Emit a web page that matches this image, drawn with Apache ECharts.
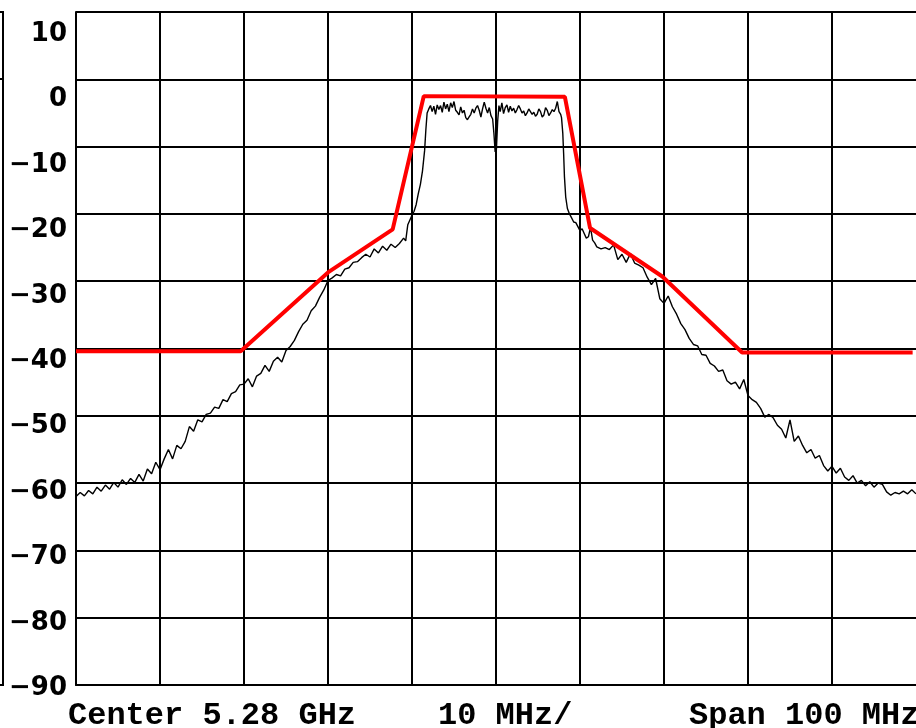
<!DOCTYPE html>
<html>
<head>
<meta charset="utf-8">
<script src="https://cdn.jsdelivr.net/npm/echarts@6/dist/echarts.min.js"></script>
<style>
html,body{margin:0;padding:0;background:#fff;}
#chart{width:916px;height:728px;}
</style>
</head>
<body>
<div id="chart"></div>
<script>
// Frequency offset from centre (MHz) and measured level (dB) of the spectrum trace
var traceMHz = [
-50.0,-49.5,-49.0,-48.5,-48.0,-47.5,-47.0,-46.5,-46.0,-45.5,-45.0,-44.5,-44.0,-43.5,-43.0,-42.5,-42.0,-41.5,-41.0,-40.5,
-40.0,-39.5,-39.0,-38.5,-38.0,-37.5,-37.0,-36.5,-36.0,-35.5,-35.0,-34.5,-34.0,-33.5,-33.0,-32.5,-32.0,-31.5,-31.0,-30.5,
-30.0,-29.5,-29.0,-28.5,-28.0,-27.5,-27.0,-26.5,-26.0,-25.5,-25.0,-24.5,-24.0,-23.5,-23.0,-22.5,-22.0,-21.5,-21.0,-20.5,
-20.0,-19.5,-19.0,-18.5,-18.0,-17.5,-17.0,-16.5,-16.0,-15.5,-15.0,-14.5,-14.0,-13.5,-13.0,-12.5,-12.0,-11.5,-11.0,-10.75,
-10.5,-10.25,-10.0,-9.75,-9.5,-9.25,-9.0,-8.75,-8.5,-8.35,-8.2,
-8.0,-7.8,-7.6,-7.4,-7.2,-7.0,-6.8,-6.6,-6.4,-6.2,-6.0,-5.8,-5.6,-5.4,-5.2,-5.0,-4.8,-4.6,-4.4,-4.2,
-4.0,-3.8,-3.6,-3.4,-3.2,-3.0,-2.8,-2.6,-2.4,-2.2,-2.0,-1.8,-1.6,-1.4,-1.2,-1.0,-0.8,-0.6,-0.4,-0.25,
-0.1,0.05,0.2,0.35,0.5,0.7,0.9,1.1,1.3,1.5,1.7,1.9,2.1,2.3,2.5,2.7,2.9,3.1,3.3,3.5,
3.7,3.9,4.1,4.3,4.5,4.7,4.9,5.1,5.3,5.5,5.7,5.9,6.1,6.3,6.5,6.7,6.9,7.1,7.3,7.5,7.7,7.8,
7.95,8.05,8.15,8.3,8.5,8.75,9.0,9.25,9.5,9.75,10.0,10.25,10.5,10.75,11.0,11.25,11.5,11.75,
12.0,12.5,13.0,13.5,14.0,14.5,15.0,15.5,16.0,16.5,17.0,17.5,18.0,18.5,19.0,19.5,20.0,20.5,21.0,21.5,
22.0,22.5,23.0,23.5,24.0,24.5,25.0,25.5,26.0,26.5,27.0,27.5,28.0,28.5,29.0,29.5,30.0,30.5,31.0,31.5,
32.0,32.5,33.0,33.5,34.0,34.5,35.0,35.5,36.0,36.5,37.0,37.5,38.0,38.5,39.0,39.5,40.0,40.5,41.0,41.5,
42.0,42.5,43.0,43.5,44.0,44.5,45.0,45.5,46.0,46.5,47.0,47.5,48.0,48.5,49.0,49.5,50.0
];
var traceDb = [
-62.0,-61.4,-61.9,-61.1,-61.6,-60.6,-61.2,-60.3,-60.9,-59.9,-60.6,-59.5,-60.2,-59.3,-59.9,-58.7,-59.7,-57.9,-58.6,-56.9,
-58.0,-56.4,-55.0,-56.4,-54.4,-54.9,-53.8,-51.6,-52.3,-50.6,-50.9,-49.8,-49.6,-48.7,-48.9,-47.6,-47.9,-46.7,-46.4,-45.4,
-45.3,-44.5,-45.7,-44.1,-43.7,-42.5,-43.4,-41.9,-41.3,-42.0,-40.3,-39.7,-38.8,-37.5,-36.4,-35.8,-34.4,-33.7,-32.4,-31.3,
-29.9,-29.5,-29.0,-29.2,-28.2,-28.0,-27.2,-27.1,-26.5,-26.0,-26.4,-25.2,-25.8,-24.8,-25.4,-24.5,-25.0,-24.4,-23.6,-24.0,
-21.6,-20.9,-20.2,-19.6,-18.6,-17.0,-15.6,-13.6,-10.6,-7.5,-5.0,
-4.4,-3.9,-4.8,-4.0,-5.2,-3.8,-4.5,-3.9,-4.9,-3.4,-4.4,-3.7,-4.8,-3.5,-4.2,-3.3,-4.6,-4.9,-5.3,-4.1,
-5.0,-4.6,-5.7,-6.0,-5.6,-5.2,-4.4,-5.0,-4.3,-3.9,-4.6,-5.6,-4.4,-3.4,-4.3,-5.0,-4.2,-5.4,-5.9,-8.0,
-10.8,-10.4,-6.2,-3.9,-4.8,-3.5,-5.1,-4.2,-3.8,-4.9,-4.0,-4.7,-4.3,-5.0,-4.5,-3.9,-4.4,-5.0,-4.7,-5.4,
-5.0,-4.4,-4.8,-5.2,-4.9,-5.5,-5.2,-4.4,-4.8,-5.6,-5.3,-4.2,-4.6,-5.4,-5.0,-4.5,-4.8,-4.3,-3.3,-4.8,-5.2,-5.7,
-8.0,-11.0,-14.5,-17.5,-19.2,-20.0,-20.6,-21.2,-21.3,-21.9,-22.5,-22.2,-22.9,-23.6,-23.4,-22.0,-23.9,-24.3,
-24.9,-25.2,-25.0,-25.3,-24.6,-26.8,-26.0,-27.2,-25.9,-27.3,-27.6,-28.0,-29.4,-30.5,-29.6,-32.6,-33.3,-32.2,-33.8,-34.9,
-36.3,-37.2,-38.5,-39.4,-39.6,-40.9,-41.0,-42.2,-42.6,-43.4,-43.2,-44.8,-45.3,-45.0,-46.0,-44.6,-47.0,-47.6,-48.0,-48.9,
-50.2,-49.8,-50.3,-51.4,-52.0,-53.3,-50.6,-53.8,-53.0,-54.4,-55.5,-55.0,-56.3,-55.9,-57.4,-58.2,-57.5,-58.5,-57.8,-59.1,
-59.6,-58.9,-60.0,-59.6,-60.4,-59.8,-60.6,-60.0,-60.2,-61.3,-61.8,-61.4,-61.6,-61.2,-61.6,-61.0,-61.6
];
// Spectrum emission mask (red)
var maskMHz = [-50, -30.4, -20.0, -12.3, -8.6, 8.2, 11.2, 19.8, 29.3, 49.6];
var maskDb  = [-40.4, -40.4, -28.7, -22.3, -2.5, -2.6, -22.1, -29.3, -40.6, -40.6];
// Y tick labels
var yTickLabels = [10, 0, -10, -20, -30, -40, -50, -60, -70, -80, -90];
var footerTexts = ['Center 5.28 GHz', '10 MHz/', 'Span 100 MHz'];

var traceData = traceMHz.map(function (f, i) { return [f, traceDb[i]]; });
var maskData = maskMHz.map(function (f, i) { return [f, maskDb[i]]; });

var chart = echarts.init(document.getElementById('chart'), null, {renderer: 'canvas'});
var black = '#000';
chart.setOption({
  animation: false,
  backgroundColor: '#fff',
  grid: [
    {left: 76, right: 0, top: 12, bottom: 43, show: false},
    {left: 76, right: 0, top: 15.5, bottom: 39.5, show: false}
  ],
  xAxis: [{
    type: 'value', min: -50, max: 50, interval: 10, gridIndex: 0,
    axisLine: {show: true, onZero: false, lineStyle: {color: black, width: 2}},
    axisTick: {show: false},
    axisLabel: {show: false},
    splitLine: {show: true, showMaxLine: false, lineStyle: {color: black, width: 2}}
  }, {
    type: 'value', min: -50, max: 50, gridIndex: 1, show: false
  }],
  yAxis: [{
    type: 'value', min: -90, max: 10, interval: 10, gridIndex: 0,
    position: 'left',
    axisLine: {show: true, onZero: false, lineStyle: {color: black, width: 2}},
    axisTick: {show: false},
    axisLabel: {show: false},
    splitLine: {show: true, lineStyle: {color: black, width: 2}}
  }, {
    type: 'value', min: -90, max: 12.82, gridIndex: 1,
    position: 'left',
    axisLine: {show: false},
    axisTick: {show: false},
    splitLine: {show: false},
    axisLabel: {
      show: true,
      customValues: yTickLabels,
      showMinLabel: true,
      margin: 9,
      color: black,
      fontFamily: 'DejaVu Sans',
      fontWeight: 'bold',
      fontSize: 26,
      formatter: function (v) { return String(v).replace('-', '\u2212'); }
    }
  }],
  graphic: [
    {type: 'text', left: 68, top: 700, z: 10,
     style: {text: footerTexts[0], font: 'bold 32px "Liberation Mono"', fill: black}},
    {type: 'text', left: 438, top: 700, z: 10,
     style: {text: footerTexts[1], font: 'bold 32px "Liberation Mono"', fill: black}},
    {type: 'text', left: 689, top: 700, z: 10,
     style: {text: footerTexts[2], font: 'bold 32px "Liberation Mono"', fill: black}},
    {type: 'polyline', z: 10, silent: true,
     shape: {points: [[0, 12], [3, 12], [3, 685], [0, 685]]},
     style: {stroke: black, lineWidth: 2, fill: null}},
    {type: 'line', z: 10, silent: true,
     shape: {x1: 0, y1: 79, x2: 3, y2: 79},
     style: {stroke: black, lineWidth: 2}}
  ],
  series: [{
    type: 'line', data: traceData, xAxisIndex: 0, yAxisIndex: 0,
    showSymbol: false, symbol: 'none', z: 3,
    lineStyle: {color: black, width: 1.4}
  }, {
    type: 'line', data: maskData, xAxisIndex: 0, yAxisIndex: 0,
    showSymbol: false, symbol: 'none', z: 4,
    lineStyle: {color: '#ff0000', width: 4}
  }]
});
</script>
</body>
</html>
